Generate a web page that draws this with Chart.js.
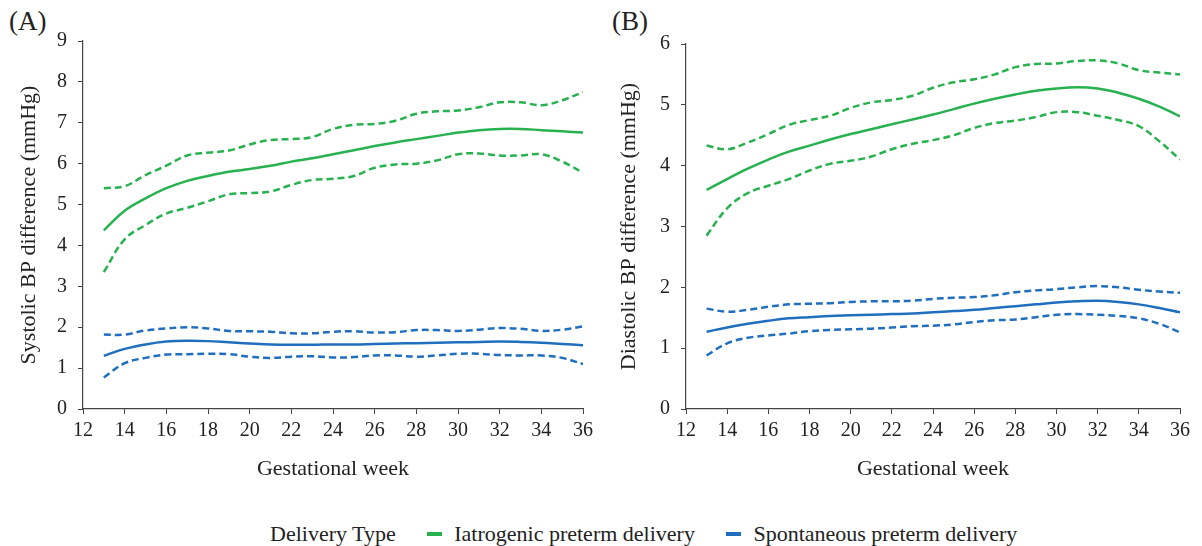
<!DOCTYPE html>
<html>
<head>
<meta charset="utf-8">
<script src="https://cdn.jsdelivr.net/npm/chart.js@4.4.1/dist/chart.umd.min.js"></script>
<style>
  body { margin: 0; background: #fff; font-family: "Liberation Serif", "Times New Roman", serif; color: #222; }
  #wrap { position: relative; width: 1202px; height: 546px; }
  .panel { position: absolute; top: 0; height: 490px; }
  .tag { position: absolute; top: 6px; font-size: 27px; }
  #legend { position: absolute; top: 519px; left: 270px; font-size: 22px; white-space: nowrap; }
  #legend span { display: inline-block; vertical-align: middle; }
  .swatch { width: 15px; height: 4px; margin: 0 12px 0 26px; }
</style>
</head>
<body>
<div id="wrap">
  <div class="tag" style="left:9px">(A)</div>
  <div class="tag" style="left:612px">(B)</div>
  <div class="panel" style="left:0;width:600px"><canvas id="chartA"></canvas></div>
  <div class="panel" style="left:600px;width:602px"><canvas id="chartB"></canvas></div>
  <div id="legend">
    <span>Delivery Type</span>
    <span class="swatch" style="background:#27b14f"></span><span>Iatrogenic preterm delivery</span>
    <span class="swatch" style="background:#1f6fbe"></span><span>Spontaneous preterm delivery</span>
  </div>
</div>
<script>
const weeks = [13,14,15,16,17,18,19,20,21,22,23,24,25,26,27,28,29,30,31,32,33,34,35,36];

// (A) systolic
const sysIatro      = [4.37,4.85,5.15,5.40,5.58,5.70,5.80,5.87,5.95,6.05,6.13,6.23,6.33,6.43,6.52,6.60,6.68,6.76,6.82,6.85,6.85,6.82,6.79,6.76];
const sysIatroUp    = [5.40,5.45,5.72,5.95,6.20,6.27,6.32,6.47,6.58,6.60,6.65,6.85,6.95,6.97,7.05,7.22,7.28,7.30,7.38,7.50,7.50,7.43,7.55,7.75];
const sysIatroLo    = [3.35,4.15,4.50,4.78,4.92,5.08,5.25,5.28,5.32,5.48,5.60,5.63,5.70,5.90,5.98,6.00,6.08,6.23,6.25,6.20,6.20,6.23,6.05,5.78];
const sysSpont      = [1.30,1.47,1.58,1.65,1.67,1.66,1.63,1.60,1.58,1.57,1.57,1.58,1.58,1.59,1.60,1.61,1.62,1.63,1.64,1.65,1.64,1.62,1.59,1.56];
const sysSpontUp    = [1.82,1.82,1.92,1.97,2.00,1.97,1.91,1.90,1.89,1.85,1.85,1.89,1.90,1.87,1.88,1.93,1.93,1.91,1.94,1.98,1.96,1.91,1.94,2.02];
const sysSpontLo    = [0.77,1.12,1.25,1.33,1.34,1.35,1.34,1.28,1.25,1.28,1.29,1.26,1.27,1.31,1.31,1.28,1.31,1.35,1.35,1.32,1.31,1.31,1.25,1.10];

// (B) diastolic
const diaIatro      = [3.60,3.78,3.95,4.10,4.23,4.33,4.43,4.52,4.60,4.68,4.76,4.84,4.93,5.02,5.10,5.17,5.23,5.27,5.29,5.27,5.20,5.10,4.97,4.81];
const diaIatroUp    = [4.33,4.27,4.38,4.52,4.67,4.75,4.82,4.95,5.04,5.08,5.15,5.28,5.37,5.42,5.50,5.62,5.67,5.68,5.72,5.73,5.68,5.57,5.53,5.50];
const diaIatroLo    = [2.85,3.30,3.55,3.67,3.78,3.92,4.03,4.08,4.15,4.27,4.36,4.42,4.50,4.62,4.70,4.74,4.80,4.88,4.88,4.82,4.75,4.65,4.40,4.10];
const diaSpont      = [1.27,1.34,1.40,1.45,1.49,1.51,1.53,1.54,1.55,1.56,1.57,1.59,1.61,1.63,1.66,1.69,1.72,1.75,1.77,1.78,1.76,1.72,1.66,1.59];
const diaSpontUp    = [1.65,1.60,1.63,1.68,1.72,1.73,1.74,1.76,1.77,1.77,1.78,1.81,1.83,1.84,1.87,1.92,1.95,1.97,2.00,2.02,2.00,1.96,1.93,1.91];
const diaSpontLo    = [0.88,1.08,1.17,1.21,1.24,1.28,1.30,1.31,1.32,1.34,1.36,1.37,1.39,1.43,1.46,1.47,1.51,1.55,1.56,1.55,1.53,1.49,1.40,1.26];

const GREEN = '#27b14f';
const BLUE = '#1f6fbe';
const FAMILY = '"Liberation Serif", "Times New Roman", serif';
const TICK_FONT = { family: FAMILY, size: 20 };
const TITLE_FONT = { family: FAMILY, size: 22 };

function line(values, color, dashed) {
  return {
    data: weeks.map((w, i) => ({ x: w, y: values[i] })),
    borderColor: color,
    borderWidth: 2.5,
    borderDash: dashed ? [7, 4] : [],
    pointRadius: 0,
    tension: 0.4,
    fill: false
  };
}

function makeChart(id, sets, yMax, yTitle, axisW, pad) {
  return new Chart(document.getElementById(id), {
    type: 'line',
    data: { datasets: sets },
    options: {
      responsive: true,
      maintainAspectRatio: false,
      animation: false,
      layout: { padding: pad },
      plugins: { legend: { display: false }, tooltip: { enabled: false } },
      scales: {
        x: {
          type: 'linear', min: 12, max: 36,
          ticks: { stepSize: 2, color: '#222', font: TICK_FONT, padding: 5 },
          grid: { drawOnChartArea: false, drawTicks: true, tickLength: 5, color: '#444' },
          border: { color: '#444', width: 1.2 },
          title: { display: true, text: 'Gestational week', color: '#222', font: TITLE_FONT, padding: { top: 0, bottom: 8 } },
          afterFit: s => { s.height = 81; }
        },
        y: {
          min: 0, max: yMax,
          ticks: { stepSize: 1, color: '#222', font: TICK_FONT, padding: 11 },
          grid: { drawOnChartArea: false, drawTicks: true, tickLength: 5, color: '#444' },
          border: { color: '#444', width: 1.2 },
          title: { display: true, text: yTitle, color: '#222', font: TITLE_FONT, padding: { top: 16, bottom: 0 } },
          afterFit: s => { s.width = axisW; }
        }
      }
    }
  });
}

makeChart('chartA', [
  line(sysIatro, GREEN, false), line(sysIatroUp, GREEN, true), line(sysIatroLo, GREEN, true),
  line(sysSpont, BLUE, false), line(sysSpontUp, BLUE, true), line(sysSpontLo, BLUE, true)
], 9, 'Systolic BP difference (mmHg)', 83, { top: 41, right: 17, left: 0, bottom: 0 });

makeChart('chartB', [
  line(diaIatro, GREEN, false), line(diaIatroUp, GREEN, true), line(diaIatroLo, GREEN, true),
  line(diaSpont, BLUE, false), line(diaSpontUp, BLUE, true), line(diaSpontLo, BLUE, true)
], 6, 'Diastolic BP difference (mmHg)', 86, { top: 44, right: 22, left: 0, bottom: 0 });
</script>
</body>
</html>
